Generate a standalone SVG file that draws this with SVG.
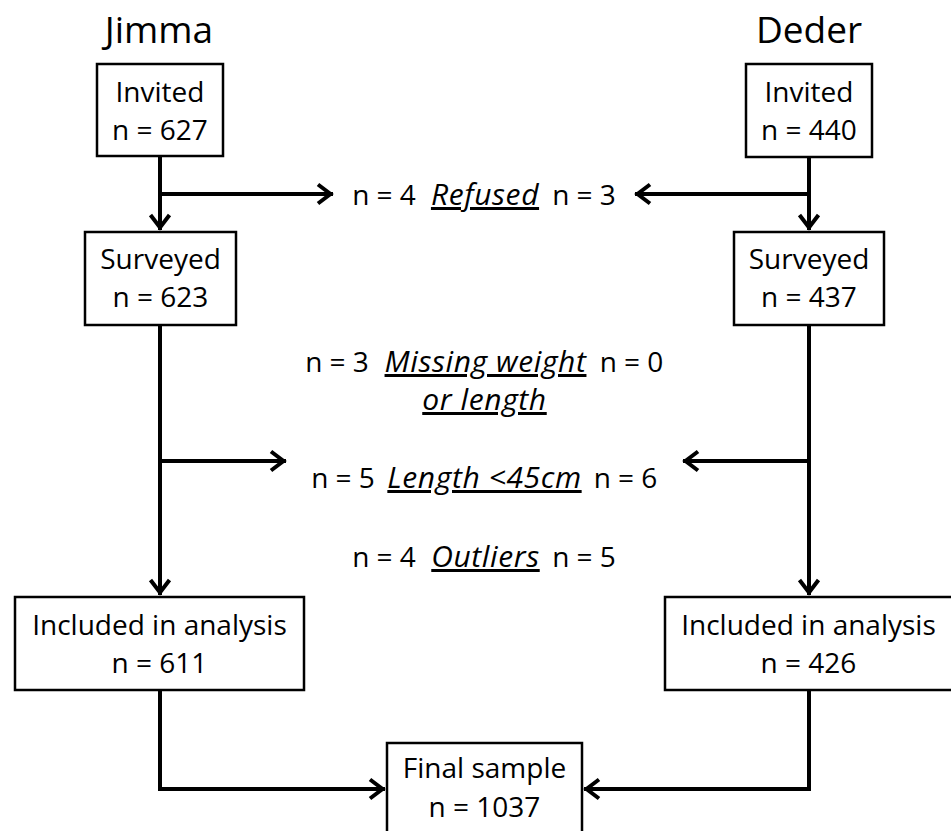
<svg xmlns="http://www.w3.org/2000/svg" width="951" height="831" viewBox="0 0 951 831">
<style>
  text { font-family: "Open Sans", "Liberation Sans", sans-serif; font-size: 28px; fill: #000; text-anchor: middle; }
  .title { font-size: 37px; }
  .reason { font-style: italic; text-decoration: underline; font-size: 30px; letter-spacing: 0.6px; }
  .box { fill: #fff; stroke: #000; stroke-width: 2.5; }
  .conn { fill: none; stroke: #000; stroke-width: 4; stroke-linejoin: miter; }
</style>
<defs>
  <marker id="arr" markerUnits="userSpaceOnUse" viewBox="-20 -14 24 28" refX="0" refY="0" markerWidth="24" markerHeight="28" orient="auto" overflow="visible">
    <path d="M-15,-9.5 L-2.5,0 L-15,9.5" fill="none" stroke="#000" stroke-width="4"/>
  </marker>
</defs>
<rect width="951" height="831" fill="#fff"/>

<g id="titles">
  <text class="title" x="159" y="43">Jimma</text>
  <text class="title" x="809" y="43">Deder</text>
</g>

<g id="connectors">
  <path class="conn" d="M160,156 V230" marker-end="url(#arr)"/>
  <path class="conn" d="M160,194 H333" marker-end="url(#arr)"/>
  <path class="conn" d="M809,157 V230" marker-end="url(#arr)"/>
  <path class="conn" d="M809,194 H635" marker-end="url(#arr)"/>
  <path class="conn" d="M160,325 V595" marker-end="url(#arr)"/>
  <path class="conn" d="M160,461 H286" marker-end="url(#arr)"/>
  <path class="conn" d="M809,325 V595" marker-end="url(#arr)"/>
  <path class="conn" d="M809,461 H683" marker-end="url(#arr)"/>
  <path class="conn" d="M160,690 V789 H385" marker-end="url(#arr)"/>
  <path class="conn" d="M809,690 V789 H584" marker-end="url(#arr)"/>
</g>

<g id="jimma-invited">
  <rect class="box" x="97" y="64" width="126" height="92"/>
  <text x="160" y="102">Invited</text>
  <text x="160" y="140">n = 627</text>
</g>
<g id="deder-invited">
  <rect class="box" x="746" y="64" width="126" height="93"/>
  <text x="809" y="102">Invited</text>
  <text x="809" y="140">n = 440</text>
</g>
<g id="jimma-surveyed">
  <rect class="box" x="85" y="232" width="151" height="93"/>
  <text x="160.5" y="269">Surveyed</text>
  <text x="160.5" y="307">n = 623</text>
</g>
<g id="deder-surveyed">
  <rect class="box" x="734" y="232" width="150" height="93"/>
  <text x="809" y="269">Surveyed</text>
  <text x="809" y="307">n = 437</text>
</g>
<g id="jimma-included">
  <rect class="box" x="15" y="597" width="289" height="93"/>
  <text x="159.5" y="635">Included in analysis</text>
  <text x="159.5" y="673">n = 611</text>
</g>
<g id="deder-included">
  <rect class="box" x="665" y="597" width="289" height="93"/>
  <text x="808.5" y="635">Included in analysis</text>
  <text x="808.5" y="673">n = 426</text>
</g>
<g id="final-sample">
  <rect class="box" x="387" y="743" width="195" height="100"/>
  <text x="484.5" y="778">Final sample</text>
  <text x="484.5" y="817">n = 1037</text>
</g>

<g id="refused">
  <text x="384" y="205">n = 4</text>
  <text class="reason" x="485" y="205">Refused</text>
  <text x="584" y="205">n = 3</text>
</g>
<g id="missing">
  <text x="337" y="372">n = 3</text>
  <text class="reason" x="485.5" y="372">Missing weight</text>
  <text x="631.5" y="372">n = 0</text>
  <text class="reason" x="484.5" y="410">or length</text>
</g>
<g id="length">
  <text x="343" y="488">n = 5</text>
  <text class="reason" x="484.5" y="488">Length &lt;45cm</text>
  <text x="625.5" y="488">n = 6</text>
</g>
<g id="outliers">
  <text x="384" y="567">n = 4</text>
  <text class="reason" x="485.5" y="567">Outliers</text>
  <text x="584" y="567">n = 5</text>
</g>
</svg>
